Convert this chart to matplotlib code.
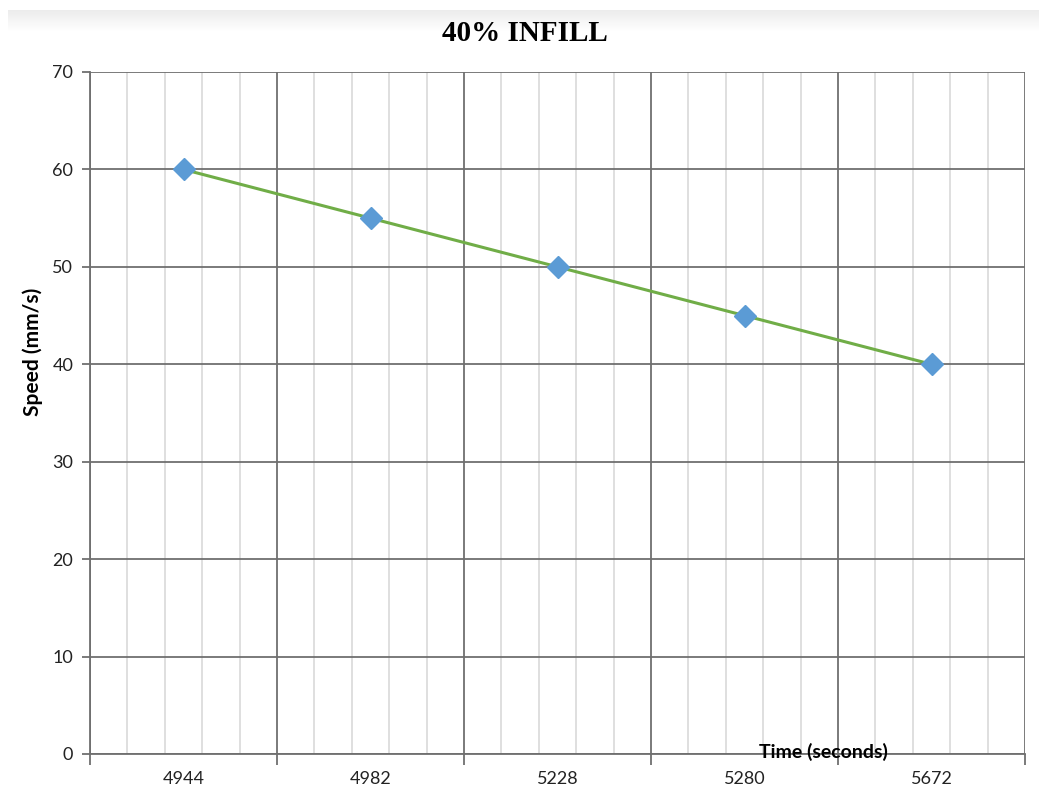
import numpy as np
import matplotlib
matplotlib.use("Agg")
import matplotlib.pyplot as plt

plt.rcParams['font.family'] = ['Lato', 'DejaVu Sans']

tiempos = ['4944', '4982', '5228', '5280', '5672']
velocidad = [60, 55, 50, 45, 40]

fig = plt.figure(figsize=(10.39, 7.92), dpi=100)

# faixa cinza no topo
faixa = fig.add_axes([0.008, 0.96, 0.992, 0.028])
faixa.imshow(np.linspace(0.92, 1.0, 50).reshape(-1, 1), cmap='gray', vmin=0, vmax=1,
             aspect='auto', extent=[0, 1, 0, 1], origin='upper')
faixa.axis('off')

ax = fig.add_axes([90/1039, 1 - 754/792, 935/1039, 682/792])

x = np.arange(len(tiempos))
ax.set_xlim(-0.5, len(tiempos) - 0.5)
ax.set_ylim(0, 70)

# linhas verticais claras
finas = np.arange(-0.5, len(tiempos) - 0.5, 0.2)
finas = finas[np.abs(finas - np.round(finas - 0.5) - 0.5) > 1e-6]
ax.vlines(finas, 0, 70, colors='#d9d9d9', lw=1.2, zorder=0)

ax.set_xticks(np.arange(-0.5, len(tiempos)), labels=[])
ax.set_xticks(x, labels=tiempos, minor=True)
ax.set_yticks(np.arange(0, 71, 10))
ax.grid(True, which='major', color='#6f6f6f', lw=1.3, zorder=1)
ax.set_axisbelow(True)

ax.tick_params(axis='x', which='major', length=8, width=1.3, color='#6f6f6f', direction='out')
ax.tick_params(axis='x', which='minor', length=0, pad=12, labelsize=13, labelcolor='#222222')
ax.tick_params(axis='y', length=6, width=1.3, color='#6f6f6f', pad=6, labelsize=13,
               labelcolor='#222222')

for lado in ['top', 'right']:
    ax.spines[lado].set_visible(False)
for lado in ['left', 'bottom']:
    ax.spines[lado].set_color('#6f6f6f')
    ax.spines[lado].set_linewidth(1.3)

ax.plot(x, velocidad, color='#70ad47', lw=2.2, zorder=3,
        marker='D', markersize=11, markerfacecolor='#5b9bd5', markeredgecolor='#5b9bd5')

ax.set_ylabel('Speed (mm/s)', fontsize=15, fontweight='bold')
ax.yaxis.set_label_coords(-0.050, 0.589)
ax.text(0.784, 0.003, 'Time (seconds)', transform=ax.transAxes, ha='center', va='center',
        fontsize=14, fontweight='bold', zorder=5)

fig.text(0.505, 0.958, '40% INFILL', ha='center', va='center', fontsize=21,
         fontweight='bold', family='Liberation Serif')

fig.savefig('out.png', dpi=100)
